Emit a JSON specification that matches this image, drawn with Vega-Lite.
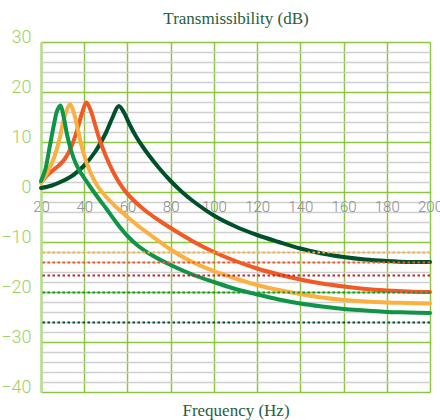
{
  "$schema": "https://vega.github.io/schema/vega-lite/v6.json",
  "width": 389,
  "height": 350,
  "autosize": {"type": "none"},
  "padding": {"left": 41, "top": 42, "right": 10, "bottom": 28},
  "config": {"view": {"stroke": null}},
  "datasets": {
    "curves": [
      {"series": "D", "f": 20, "db": 0.8}, {"series": "D", "f": 25, "db": 1.3}, {"series": "D", "f": 30, "db": 2.2}, {"series": "D", "f": 35, "db": 3.4}, {"series": "D", "f": 40, "db": 5.3}, {"series": "D", "f": 45, "db": 8}, {"series": "D", "f": 50, "db": 11.8}, {"series": "D", "f": 53, "db": 14.8}, {"series": "D", "f": 56, "db": 17.2}, {"series": "D", "f": 58.5, "db": 15.8}, {"series": "D", "f": 61, "db": 13.5}, {"series": "D", "f": 64, "db": 11.1}, {"series": "D", "f": 67, "db": 9.1}, {"series": "D", "f": 70, "db": 7.3}, {"series": "D", "f": 75, "db": 4.6}, {"series": "D", "f": 80, "db": 2.2}, {"series": "D", "f": 85, "db": 0.1}, {"series": "D", "f": 90, "db": -1.7}, {"series": "D", "f": 100, "db": -4.7}, {"series": "D", "f": 110, "db": -6.9}, {"series": "D", "f": 120, "db": -8.6}, {"series": "D", "f": 130, "db": -10}, {"series": "D", "f": 140, "db": -11.3}, {"series": "D", "f": 150, "db": -12.3}, {"series": "D", "f": 160, "db": -13}, {"series": "D", "f": 170, "db": -13.5}, {"series": "D", "f": 180, "db": -13.8}, {"series": "D", "f": 190, "db": -14}, {"series": "D", "f": 200, "db": -14},
      {"series": "C", "f": 20, "db": 1.9}, {"series": "C", "f": 23, "db": 3.4}, {"series": "C", "f": 26, "db": 4.5}, {"series": "C", "f": 28.5, "db": 5.4}, {"series": "C", "f": 31, "db": 6.6}, {"series": "C", "f": 34, "db": 9}, {"series": "C", "f": 37, "db": 12.8}, {"series": "C", "f": 39, "db": 15.8}, {"series": "C", "f": 41, "db": 17.9}, {"series": "C", "f": 43, "db": 16.3}, {"series": "C", "f": 45, "db": 13.5}, {"series": "C", "f": 47, "db": 10.6}, {"series": "C", "f": 50, "db": 7.2}, {"series": "C", "f": 54, "db": 3.5}, {"series": "C", "f": 58, "db": 0.7}, {"series": "C", "f": 62, "db": -1.3}, {"series": "C", "f": 66, "db": -2.9}, {"series": "C", "f": 70, "db": -4.3}, {"series": "C", "f": 75, "db": -5.8}, {"series": "C", "f": 80, "db": -7.2}, {"series": "C", "f": 90, "db": -9.8}, {"series": "C", "f": 100, "db": -12}, {"series": "C", "f": 110, "db": -13.8}, {"series": "C", "f": 120, "db": -15.3}, {"series": "C", "f": 130, "db": -16.5}, {"series": "C", "f": 140, "db": -17.5}, {"series": "C", "f": 150, "db": -18.3}, {"series": "C", "f": 160, "db": -18.9}, {"series": "C", "f": 170, "db": -19.4}, {"series": "C", "f": 180, "db": -19.7}, {"series": "C", "f": 190, "db": -19.9}, {"series": "C", "f": 200, "db": -20},
      {"series": "B", "f": 20, "db": 1.8}, {"series": "B", "f": 23, "db": 4}, {"series": "B", "f": 26, "db": 6.8}, {"series": "B", "f": 28.5, "db": 10.5}, {"series": "B", "f": 31, "db": 15.2}, {"series": "B", "f": 33.5, "db": 17.5}, {"series": "B", "f": 35.5, "db": 15.4}, {"series": "B", "f": 37, "db": 12.6}, {"series": "B", "f": 39, "db": 8.8}, {"series": "B", "f": 42, "db": 4.8}, {"series": "B", "f": 46, "db": 1.3}, {"series": "B", "f": 50, "db": -0.9}, {"series": "B", "f": 55, "db": -3.1}, {"series": "B", "f": 60, "db": -5}, {"series": "B", "f": 65, "db": -6.8}, {"series": "B", "f": 70, "db": -8.4}, {"series": "B", "f": 80, "db": -11.5}, {"series": "B", "f": 90, "db": -14}, {"series": "B", "f": 100, "db": -15.8}, {"series": "B", "f": 110, "db": -17.3}, {"series": "B", "f": 120, "db": -18.6}, {"series": "B", "f": 130, "db": -19.6}, {"series": "B", "f": 140, "db": -20.4}, {"series": "B", "f": 150, "db": -21.1}, {"series": "B", "f": 160, "db": -21.6}, {"series": "B", "f": 170, "db": -21.9}, {"series": "B", "f": 180, "db": -22.1}, {"series": "B", "f": 190, "db": -22.2}, {"series": "B", "f": 200, "db": -22.3},
      {"series": "A", "f": 20, "db": 2.2}, {"series": "A", "f": 22, "db": 4.5}, {"series": "A", "f": 24, "db": 9}, {"series": "A", "f": 26, "db": 13.5}, {"series": "A", "f": 27.5, "db": 16.3}, {"series": "A", "f": 29, "db": 17.3}, {"series": "A", "f": 30.5, "db": 15}, {"series": "A", "f": 32, "db": 11.6}, {"series": "A", "f": 34, "db": 8.2}, {"series": "A", "f": 36, "db": 5.8}, {"series": "A", "f": 38, "db": 4.1}, {"series": "A", "f": 40, "db": 2.8}, {"series": "A", "f": 43, "db": 0.9}, {"series": "A", "f": 47, "db": -1.5}, {"series": "A", "f": 50, "db": -3.2}, {"series": "A", "f": 55, "db": -6.2}, {"series": "A", "f": 60, "db": -8.8}, {"series": "A", "f": 65, "db": -10.8}, {"series": "A", "f": 70, "db": -12.3}, {"series": "A", "f": 80, "db": -14.6}, {"series": "A", "f": 90, "db": -16.5}, {"series": "A", "f": 100, "db": -18}, {"series": "A", "f": 110, "db": -19.4}, {"series": "A", "f": 120, "db": -20.5}, {"series": "A", "f": 130, "db": -21.5}, {"series": "A", "f": 140, "db": -22.3}, {"series": "A", "f": 150, "db": -22.9}, {"series": "A", "f": 160, "db": -23.4}, {"series": "A", "f": 170, "db": -23.7}, {"series": "A", "f": 180, "db": -24}, {"series": "A", "f": 190, "db": -24.1}, {"series": "A", "f": 200, "db": -24.2}
    ],
    "refs": [
      {"series": "B", "db": -12.1},
      {"series": "C", "db": -14.1},
      {"series": "R", "db": -16.7},
      {"series": "A", "db": -20.1},
      {"series": "D", "db": -26.1}
    ]
  },
  "layer": [
    {
      "data": {"name": "curves"},
      "mark": {"type": "line", "strokeWidth": 4, "interpolate": "catmull-rom", "strokeCap": "round", "strokeJoin": "round"},
      "encoding": {
        "x": {
          "field": "f", "type": "quantitative",
          "scale": {"domain": [20, 200], "nice": false, "zero": false},
          "axis": {
            "values": [20, 40, 60, 80, 100, 120, 140, 160, 180, 200],
            "tickCount": 100,
            "format": "d",
            "offset": -200,
            "domain": false, "ticks": false,
            "labelFlush": false, "labelOverlap": false,
            "labelFont": "Roboto", "labelFontSize": 15, "labelFontWeight": 300, "labelColor": "#8a8a8a",
            "labelPadding": 7,
            "grid": true, "gridColor": "#8cc63f", "gridWidth": 1.5, "gridOpacity": 1,
            "title": "Frequency (Hz)",
            "titleFont": "Liberation Serif", "titleFontSize": 17, "titleFontWeight": "normal", "titleColor": "#1f5e3d",
            "titleY": 218, "titleBaseline": "middle"
          }
        },
        "y": {
          "field": "db", "type": "quantitative",
          "scale": {"domain": [-40, 30], "nice": false},
          "axis": {
            "values": [-40, -38, -36, -34, -32, -30, -28, -26, -24, -22, -20, -18, -16, -14, -12, -10, -8, -6, -4, -2, 0, 2, 4, 6, 8, 10, 12, 14, 16, 18, 20, 22, 24, 26, 28, 30],
            "tickCount": 100,
            "format": "d",
            "labelExpr": "datum.value % 10 === 0 ? datum.label : ''",
            "labelOverlap": false,
            "domain": true, "domainColor": "#b9df90", "domainWidth": 2.5,
            "ticks": false,
            "labelFont": "Roboto", "labelFontSize": 18, "labelFontWeight": 300, "labelColor": "#9dd067",
            "labelBaseline": "alphabetic", "labelPadding": 10, "labelFlush": false,
            "grid": true,
            "gridColor": {"condition": {"test": "datum.value % 10 === 0", "value": "#8cc63f"}, "value": "#cfcfcf"},
            "gridWidth": {"condition": {"test": "datum.value % 10 === 0", "value": 1.5}, "value": 1.6},
            "gridOpacity": 1,
            "title": "Transmissibility (dB)",
            "titleFont": "Liberation Serif", "titleFontSize": 17, "titleFontWeight": "normal", "titleColor": "#1f5e3d",
            "titleAngle": 0, "titleAlign": "center", "titleBaseline": "middle",
            "titleX": 194.5, "titleY": -24
          }
        },
        "color": {
          "field": "series", "type": "nominal",
          "scale": {"domain": ["A", "B", "C", "D", "R"], "range": ["#109447", "#fbb040", "#f15a24", "#00502b", "#c1272d"]},
          "legend": null
        }
      }
    },
    {
      "data": {"name": "refs"},
      "mark": {"type": "rule", "strokeWidth": 2, "strokeDash": [2.5, 2.5]},
      "encoding": {
        "y": {"field": "db", "type": "quantitative"},
        "color": {"field": "series", "type": "nominal"}
      }
    }
  ]
}
